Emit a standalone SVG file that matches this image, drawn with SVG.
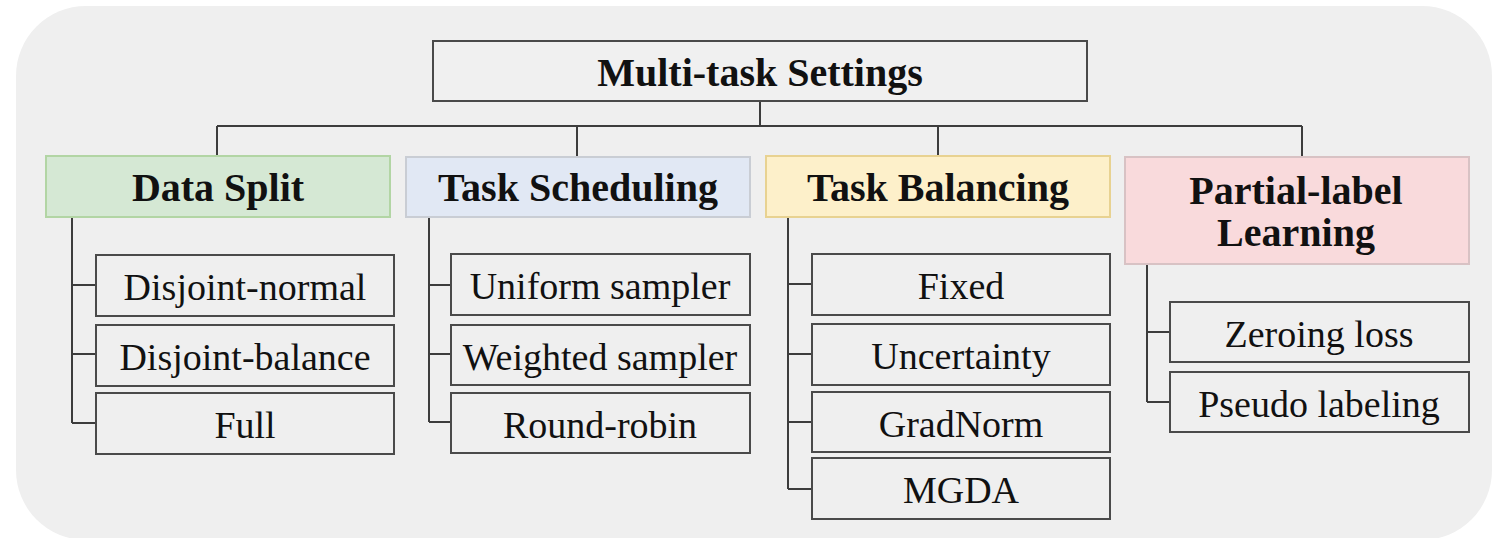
<svg xmlns="http://www.w3.org/2000/svg" width="1493" height="538" viewBox="0 0 1493 538">
<style>
.bg{fill:#efefef}
.box{fill:none;stroke:#4a4a4a;stroke-width:2}
.top{fill:#f0f0f0;stroke:#4a4a4a;stroke-width:2}
.h{font-family:"Liberation Serif",serif;font-weight:bold;font-size:40px;fill:#111;text-anchor:middle}
.t{font-family:"Liberation Serif",serif;font-size:38px;fill:#111;text-anchor:middle}
.con{fill:none;stroke:#3c3c3c;stroke-width:2}
</style>
<rect x="0" y="0" width="1493" height="538" fill="#ffffff"/>
<rect class="bg" x="16" y="6" width="1476" height="534" rx="70" ry="70"/>

<g id="connectors">
<path class="con" d="M760 101V126M217 126H1302M217 126V156M577 126V157M938 126V156M1302 126V156"/>
<path class="con" d="M72 217V423M72 285H96M72 354H96M72 423H96"/>
<path class="con" d="M429 217V422M429 285H451M429 354H451M429 422H451"/>
<path class="con" d="M788 217V489M788 284H812M788 354H812M788 422H812M788 489H812"/>
<path class="con" d="M1147 264V402M1147 332H1170M1147 402H1170"/>
</g>

<g id="root">
<rect class="top" x="433" y="41" width="654" height="60"/>
<text class="h" x="760" y="86">Multi-task Settings</text>
</g>

<g id="data-split">
<rect x="46" y="156" width="344" height="61" fill="#d5e8d4" stroke="#b2d5a4" stroke-width="2"/>
<text class="h" x="218" y="201">Data Split</text>
</g>
<g id="task-scheduling">
<rect x="406" y="157" width="344" height="60" fill="#e1e8f4" stroke="#c9cdd4" stroke-width="2"/>
<text class="h" x="578" y="201">Task Scheduling</text>
</g>
<g id="task-balancing">
<rect x="766" y="156" width="344" height="61" fill="#fdf0ca" stroke="#e8d291" stroke-width="2"/>
<text class="h" x="938" y="201">Task Balancing</text>
</g>
<g id="partial-label">
<rect x="1125" y="157" width="344" height="107" fill="#f9dadc" stroke="#d8c2c4" stroke-width="2"/>
<text class="h" x="1296" y="204">Partial-label</text>
<text class="h" x="1296" y="246">Learning</text>
</g>

<g id="disjoint-normal"><rect class="box" x="96" y="255" width="298" height="61"/><text class="t" x="245" y="300">Disjoint-normal</text></g>
<g id="disjoint-balance"><rect class="box" x="96" y="325" width="298" height="61"/><text class="t" x="245" y="370">Disjoint-balance</text></g>
<g id="full"><rect class="box" x="96" y="393" width="298" height="61"/><text class="t" x="245" y="438">Full</text></g>

<g id="uniform-sampler"><rect class="box" x="451" y="254" width="299" height="61"/><text class="t" x="600" y="299">Uniform sampler</text></g>
<g id="weighted-sampler"><rect class="box" x="451" y="325" width="299" height="60"/><text class="t" x="600" y="370">Weighted sampler</text></g>
<g id="round-robin"><rect class="box" x="451" y="393" width="299" height="60"/><text class="t" x="600" y="438">Round-robin</text></g>

<g id="fixed"><rect class="box" x="812" y="254" width="298" height="61"/><text class="t" x="961" y="299">Fixed</text></g>
<g id="uncertainty"><rect class="box" x="812" y="324" width="298" height="61"/><text class="t" x="961" y="369">Uncertainty</text></g>
<g id="gradnorm"><rect class="box" x="812" y="392" width="298" height="60"/><text class="t" x="961" y="437">GradNorm</text></g>
<g id="mgda"><rect class="box" x="812" y="458" width="298" height="61"/><text class="t" x="961" y="503">MGDA</text></g>

<g id="zeroing-loss"><rect class="box" x="1170" y="302" width="299" height="60"/><text class="t" x="1319" y="347">Zeroing loss</text></g>
<g id="pseudo-labeling"><rect class="box" x="1170" y="372" width="299" height="60"/><text class="t" x="1319" y="417">Pseudo labeling</text></g>
</svg>
